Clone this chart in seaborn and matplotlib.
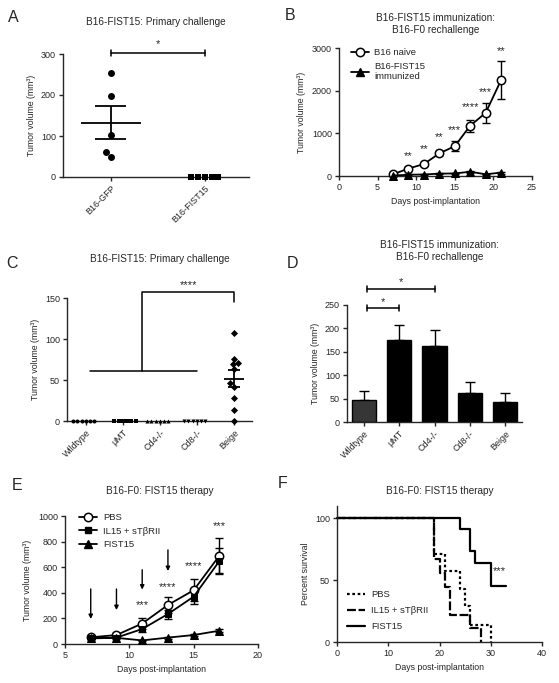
"""
Six-panel FIST15 tumour figure (A-F), rebuilt with seaborn.
"""

import numpy as np
import pandas as pd
import matplotlib
matplotlib.use('Agg')
import matplotlib.pyplot as plt
import seaborn as sns
from matplotlib.lines import Line2D
from matplotlib.transforms import ScaledTranslation


# ---- Panel A: primary challenge ----
A_GROUPS = ['B16-GFP', 'B16-FIST15']
A_GFP = [253, 197, 103, 61, 48]
A_FIST15 = [0, 0, 0, 0, 0]

# ---- Panel B: rechallenge growth curves ----
B_DAYS = [7, 9, 11, 13, 15, 17, 19, 21]
B_NAIVE = [40, 175, 280, 530, 700, 1180, 1480, 2250]
B_NAIVE_SEM = [15, 25, 35, 45, 110, 140, 240, 440]
B_IMMUN = [10, 30, 35, 55, 60, 100, 40, 80]
B_IMMUN_SEM = [5, 10, 10, 15, 15, 25, 15, 25]
B_STAR_DAYS = [9, 11, 13, 15, 17, 19, 21]
B_STARS = ['**', '**', '**', '***', '****', '***', '**']
B_STAR_Y = [560, 710, 1000, 1150, 1700, 2060, 3000]

# ---- Panel C: knockout strains, primary challenge ----
C_GROUPS = ['Wildtype', 'μMT', 'Cd4-/-', 'Cd8-/-', 'Beige']
C_MARKERS = ['o', 's', '^', 'v', 'D']
C_VALUES = {
    'Wildtype': [0, 0, 0, 0, 0, 0],
    'μMT': [0, 0, 0, 0, 0, 0],
    'Cd4-/-': [0, 0, 0, 0, 0, 0],
    'Cd8-/-': [0, 0, 0, 0, 0, 0],
    'Beige': [107, 76, 71, 70, 64, 46, 42, 28, 14, 0],
}

# ---- Panel D: knockout strains, rechallenge ----
D_MEAN = [48, 175, 162, 63, 42]
D_SEM = [18, 32, 34, 22, 19]
D_COLORS = ['#363636', 'black', 'black', 'black', 'black']

# ---- Panel E: therapy growth curves ----
E_DAYS = [7, 9, 11, 13, 15, 17]
E_PBS = [52, 70, 160, 305, 420, 690]
E_PBS_SEM = [8, 10, 45, 65, 85, 135]
E_IL15 = [45, 50, 117, 234, 370, 648]
E_IL15_SEM = [8, 8, 20, 35, 60, 103]
E_FIST15 = [44, 48, 28, 50, 70, 104]
E_FIST15_SEM = [5, 5, 5, 8, 10, 12]
E_ARROW_DAYS = [7, 9, 11, 13]
E_ARROW_TOP = [430, 430, 580, 735]
E_ARROW_TIP = [195, 265, 425, 570]
E_STAR_DAYS = [11, 13, 15, 17]
E_STARS = ['***', '****', '****', '***']
E_STAR_Y = [330, 475, 635, 945]

# ---- Panel F: survival ----
F_PBS_T = [0, 19, 21, 24, 25, 26, 30]
F_PBS_S = [100, 71, 57, 43, 29, 14, 0]
F_IL15_T = [0, 19, 20, 21, 22, 26, 28]
F_IL15_S = [100, 67, 56, 44, 22, 11, 0]
F_FIST_T = [0, 24, 26, 27, 30, 33]
F_FIST_S = [100, 91, 73, 64, 45, 45]


W, H = 559, 683
TICK_FS = 6.5
LABEL_FS = 6.3
TITLE_FS = 7.2
STAR_FS = 8
LW = 1.3

sns.set_style('ticks')
plt.rcParams['font.family'] = ['Liberation Sans', 'DejaVu Sans']
plt.rcParams['axes.linewidth'] = 1.0
plt.rcParams['xtick.major.width'] = 1.0
plt.rcParams['ytick.major.width'] = 1.0
plt.rcParams['xtick.major.size'] = 3
plt.rcParams['ytick.major.size'] = 3
plt.rcParams['xtick.labelsize'] = TICK_FS
plt.rcParams['ytick.labelsize'] = TICK_FS
plt.rcParams['xtick.major.pad'] = 2
plt.rcParams['ytick.major.pad'] = 2

fig = plt.figure(figsize=(W / 100, H / 100), dpi=100)


def axes_px(left, top, right, bottom):
    return fig.add_axes([left / W, 1 - bottom / H, (right - left) / W, (bottom - top) / H])


def fig_text(x, y, s, **kw):
    fig.text(x / W, 1 - y / H, s, ha='center', va='center', **kw)


def star(ax, x, y, s):
    # y is the visual centre of the asterisks
    off = ScaledTranslation(0, -6.5 / 100, fig.dpi_scale_trans)
    ax.text(x, y, s, ha='center', va='baseline', fontsize=STAR_FS,
            transform=ax.transData + off, clip_on=False)


def sig_bar(ax, x0, x1, y, cap):
    ax.plot([x0, x1], [y, y], color='black', lw=1.1, clip_on=False)
    ax.plot([x0, x0], [y - cap, y + cap], color='black', lw=1.1, clip_on=False)
    ax.plot([x1, x1], [y - cap, y + cap], color='black', lw=1.1, clip_on=False)


def mean_sem(ax, i, vals, half_mean, half_cap):
    vals = np.asarray(vals, dtype=float)
    m = vals.mean()
    s = vals.std(ddof=1) / np.sqrt(len(vals))
    ax.hlines(m, i - half_mean, i + half_mean, color='black', lw=LW, clip_on=False)
    ax.hlines([m - s, m + s], i - half_cap, i + half_cap, color='black', lw=LW, clip_on=False)
    ax.vlines(i, m - s, m + s, color='black', lw=LW, clip_on=False)


def finish(ax):
    sns.despine(ax=ax)
    ax.set_xlabel(ax.get_xlabel(), fontsize=LABEL_FS)
    ax.set_ylabel(ax.get_ylabel(), fontsize=LABEL_FS)


# ---------------- A ----------------
ax = axes_px(63, 54, 249, 177)
df_a = pd.DataFrame({'group': ['B16-GFP'] * len(A_GFP) + ['B16-FIST15'] * len(A_FIST15),
                     'volume': A_GFP + A_FIST15})
sns.swarmplot(data=df_a[df_a.group == 'B16-GFP'], x='group', y='volume', order=A_GROUPS,
              marker='o', color='black', size=5, linewidth=0, ax=ax, clip_on=False)
sns.swarmplot(data=df_a[df_a.group == 'B16-FIST15'], x='group', y='volume', order=A_GROUPS,
              marker='s', color='black', size=4.6, linewidth=0, ax=ax, clip_on=False)
mean_sem(ax, 0, A_GFP, 0.32, 0.165)
ax.set_xlim(-0.51, 1.47)
ax.set_ylim(0, 300)
ax.set_yticks([0, 100, 200, 300])
ax.set_xticks([0, 1])
ax.set_xticklabels(A_GROUPS, rotation=45, ha='right', rotation_mode='anchor')
ax.set_xlabel('')
ax.set_ylabel('Tumor volume (mm³)')
sig_bar(ax, 0, 1, 303, 7)
star(ax, 0.5, 332, '*')
finish(ax)

# ---------------- B ----------------
ax = axes_px(339, 48, 532, 176)
ax.errorbar(B_DAYS, B_NAIVE, yerr=B_NAIVE_SEM, fmt='none', ecolor='black',
            elinewidth=1.0, capsize=3, capthick=1.0, zorder=1, clip_on=False)
ax.errorbar(B_DAYS, B_IMMUN, yerr=B_IMMUN_SEM, fmt='none', ecolor='black',
            elinewidth=1.0, capsize=3, capthick=1.0, zorder=1, clip_on=False)
sns.lineplot(x=B_DAYS, y=B_NAIVE, ax=ax, color='black', lw=LW, marker='o', markersize=6,
             markerfacecolor='white', markeredgecolor='black', markeredgewidth=1.1,
             zorder=3, clip_on=False)
sns.lineplot(x=B_DAYS, y=B_IMMUN, ax=ax, color='black', lw=LW, marker='^', markersize=5.5,
             markeredgecolor='black', zorder=4, clip_on=False)
ax.set_xlim(0, 25)
ax.set_ylim(0, 3000)
ax.set_xticks([0, 5, 10, 15, 20, 25])
ax.set_yticks([0, 1000, 2000, 3000])
ax.set_xlabel('Days post-implantation')
ax.set_ylabel('Tumor volume (mm³)')
for d, s, y in zip(B_STAR_DAYS, B_STARS, B_STAR_Y):
    star(ax, d, y, s)
handles = [Line2D([], [], color='black', lw=LW, marker='o', markersize=6,
                  markerfacecolor='white', markeredgewidth=1.1),
           Line2D([], [], color='black', lw=LW, marker='^', markersize=5.5)]
ax.legend(handles, ['B16 naive', 'B16-FIST15\nimmunized'], loc='upper left',
          bbox_to_anchor=(0.06, 1.0), frameon=False, fontsize=6.8, borderpad=0,
          borderaxespad=0, handlelength=1.9, handletextpad=0.6, labelspacing=0.5)
finish(ax)

# ---------------- C ----------------
ax = axes_px(67, 298, 252, 421)
rows = []
for g in C_GROUPS:
    for v in C_VALUES[g]:
        rows.append({'group': g, 'volume': v})
df_c = pd.DataFrame(rows)
for g, mk in zip(C_GROUPS, C_MARKERS):
    sz = 3.6 if g == 'Beige' else 2.9
    sns.swarmplot(data=df_c[df_c.group == g], x='group', y='volume', order=C_GROUPS,
                  marker=mk, color='black', size=sz, linewidth=0, ax=ax, clip_on=False)
mean_sem(ax, 4, C_VALUES['Beige'], 0.27, 0.16)
ax.set_xlim(-0.51, 4.49)
ax.set_ylim(0, 150)
ax.set_yticks([0, 50, 100, 150])
ax.set_xticks(range(5))
ax.set_xticklabels(C_GROUPS, rotation=45, ha='right', rotation_mode='anchor')
ax.set_xlabel('')
ax.set_ylabel('Tumor volume (mm³)')
ax.plot([0.1, 3.0], [61, 61], color='black', lw=1.1)
ax.plot([1.53, 1.53, 4.0, 4.0], [61, 157, 157, 145], color='black', lw=1.1, clip_on=False)
star(ax, 2.77, 170, '****')
finish(ax)

# ---------------- D ----------------
ax = axes_px(347, 305, 522, 422)
sns.barplot(x=C_GROUPS, y=D_MEAN, hue=C_GROUPS, palette=D_COLORS, legend=False,
            width=0.69, edgecolor='black', linewidth=1.0, ax=ax, saturation=1)
ax.errorbar(range(5), D_MEAN, yerr=[np.zeros(5), D_SEM], fmt='none', ecolor='black',
            elinewidth=1.0, capsize=3.5, capthick=1.0, zorder=0)
ax.set_xlim(-0.48, 4.48)
ax.set_ylim(0, 250)
ax.set_yticks([0, 50, 100, 150, 200, 250])
ax.set_xticks(range(5))
ax.set_xticklabels(C_GROUPS, rotation=45, ha='right', rotation_mode='anchor')
ax.set_xlabel('')
ax.set_ylabel('Tumor volume (mm³)')
sig_bar(ax, 0.1, 1.0, 244, 6)
sig_bar(ax, 0.1, 2.0, 284, 6)
star(ax, 0.55, 264, '*')
star(ax, 1.05, 307, '*')
finish(ax)

# ---------------- E ----------------
ax = axes_px(65, 516, 258, 644)
for y, e in [(E_PBS, E_PBS_SEM), (E_IL15, E_IL15_SEM), (E_FIST15, E_FIST15_SEM)]:
    ax.errorbar(E_DAYS, y, yerr=e, fmt='none', ecolor='black', elinewidth=1.0,
                capsize=3, capthick=1.0, zorder=1)
sns.lineplot(x=E_DAYS, y=E_PBS, ax=ax, color='black', lw=LW, marker='o', markersize=6,
             markerfacecolor='white', markeredgecolor='black', markeredgewidth=1.1, zorder=3)
sns.lineplot(x=E_DAYS, y=E_IL15, ax=ax, color='black', lw=LW, marker='s', markersize=5,
             markeredgecolor='black', zorder=4)
sns.lineplot(x=E_DAYS, y=E_FIST15, ax=ax, color='black', lw=LW, marker='^', markersize=5.5,
             markeredgecolor='black', zorder=4)
for d, top, tip in zip(E_ARROW_DAYS, E_ARROW_TOP, E_ARROW_TIP):
    ax.annotate('', xy=(d, tip), xytext=(d, top),
                arrowprops=dict(arrowstyle='-|>', color='black', lw=1.0,
                                mutation_scale=6, shrinkA=0, shrinkB=0))
for d, s, y in zip(E_STAR_DAYS, E_STARS, E_STAR_Y):
    star(ax, d, y, s)
ax.set_xlim(5, 20)
ax.set_ylim(0, 1000)
ax.set_xticks([5, 10, 15, 20])
ax.set_yticks([0, 200, 400, 600, 800, 1000])
ax.set_xlabel('Days post-implantation')
ax.set_ylabel('Tumor volume (mm³)')
handles = [Line2D([], [], color='black', lw=LW, marker='o', markersize=6,
                  markerfacecolor='white', markeredgewidth=1.1),
           Line2D([], [], color='black', lw=LW, marker='s', markersize=5),
           Line2D([], [], color='black', lw=LW, marker='^', markersize=5.5)]
ax.legend(handles, ['PBS', 'IL15 + sTβRII', 'FIST15'], loc='upper left',
          bbox_to_anchor=(0.075, 1.02), frameon=False, fontsize=6.8, borderpad=0,
          borderaxespad=0, handlelength=1.9, handletextpad=0.6, labelspacing=0.45)
finish(ax)

# ---------------- F ----------------
ax = axes_px(337, 505.6, 542, 642)
sns.lineplot(x=F_PBS_T, y=F_PBS_S, ax=ax, color='black', lw=1.6, drawstyle='steps-post',
             linestyle=(0, (1.2, 1.2)), clip_on=False)
sns.lineplot(x=F_IL15_T, y=F_IL15_S, ax=ax, color='black', lw=1.6, drawstyle='steps-post',
             linestyle=(0, (4, 1.2)), clip_on=False)
sns.lineplot(x=F_FIST_T, y=F_FIST_S, ax=ax, color='black', lw=1.6, drawstyle='steps-post',
             clip_on=False)
star(ax, 31.7, 60, '***')
ax.set_xlim(0, 40)
ax.set_ylim(0, 110)
ax.set_xticks([0, 10, 20, 30, 40])
ax.set_yticks([0, 50, 100])
ax.set_xlabel('Days post-implantation')
ax.set_ylabel('Percent survival')
handles = [Line2D([], [], color='black', lw=1.6, linestyle=(0, (1.2, 1.2))),
           Line2D([], [], color='black', lw=1.6, linestyle=(0, (4, 1.2))),
           Line2D([], [], color='black', lw=1.6)]
ax.legend(handles, ['PBS', 'IL15 + sTβRII', 'FIST15'], loc='upper left',
          bbox_to_anchor=(0.05, 0.38), frameon=False, fontsize=6.8, borderpad=0,
          borderaxespad=0, handlelength=1.9, handletextpad=0.6, labelspacing=0.75)
finish(ax)

# ---------------- titles and panel letters ----------------
fig_text(156, 22, 'B16-FIST15: Primary challenge', fontsize=TITLE_FS)
fig_text(436, 24, 'B16-FIST15 immunization:\nB16-F0 rechallenge', fontsize=TITLE_FS,
         linespacing=1.25)
fig_text(160, 259, 'B16-FIST15: Primary challenge', fontsize=TITLE_FS)
fig_text(440, 251, 'B16-FIST15 immunization:\nB16-F0 rechallenge', fontsize=TITLE_FS,
         linespacing=1.25)
fig_text(160, 491, 'B16-F0: FIST15 therapy', fontsize=TITLE_FS)
fig_text(440, 491, 'B16-F0: FIST15 therapy', fontsize=TITLE_FS)

for letter, x, y in [('A', 13, 17), ('B', 290, 15), ('C', 12, 263),
                     ('D', 292, 263), ('E', 17, 485), ('F', 283, 484)]:
    fig_text(x, y, letter, fontsize=11.5)

fig.savefig('out.png', dpi=100)
